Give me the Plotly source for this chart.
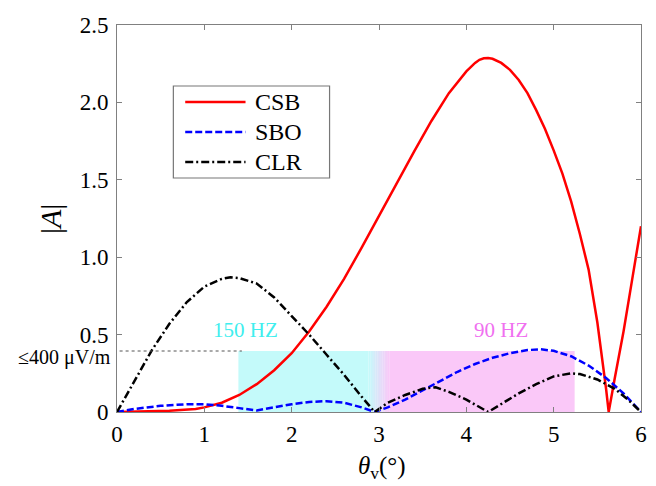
import plotly.graph_objects as go

# ---- data ----
csb_x = [0.0, 0.3, 0.6, 0.9, 1.0, 1.2, 1.4, 1.6, 1.8, 2.0, 2.2, 2.4, 2.6, 2.8, 3.0, 3.2, 3.4, 3.6, 3.8,
         4.0, 4.1, 4.15, 4.2, 4.25, 4.3, 4.4, 4.5, 4.6, 4.7, 4.8, 4.9, 5.0, 5.1, 5.2, 5.3, 5.4, 5.5,
         5.6, 5.63, 5.7, 5.8, 5.9, 6.0]
csb_y = [0.0, 0.003, 0.008, 0.02, 0.03, 0.06, 0.11, 0.18, 0.27, 0.38, 0.52, 0.68, 0.86, 1.06, 1.27,
         1.48, 1.68, 1.88, 2.06, 2.2, 2.255, 2.275, 2.285, 2.287, 2.282, 2.255, 2.21, 2.145, 2.06,
         1.95, 1.83, 1.69, 1.54, 1.36, 1.15, 0.92, 0.58, 0.15, 0.0, 0.22, 0.52, 0.86, 1.2]

sbo_x = [0.0, 0.2, 0.5, 0.8, 1.0, 1.2, 1.4, 1.6, 1.8, 2.0, 2.2, 2.4, 2.6, 2.8, 2.95, 3.1, 3.3, 3.5,
         3.7, 3.9, 4.1, 4.3, 4.5, 4.7, 4.85, 5.0, 5.2, 5.4, 5.6, 5.8, 6.0]
sbo_y = [0.0, 0.02, 0.04, 0.05, 0.05, 0.04, 0.025, 0.01, 0.03, 0.05, 0.065, 0.07, 0.06, 0.03, 0.0,
         0.03, 0.08, 0.14, 0.2, 0.26, 0.31, 0.35, 0.38, 0.4, 0.405, 0.395, 0.36, 0.3, 0.22, 0.12, 0.0]

clr_x = [0.0, 0.2, 0.4, 0.6, 0.8, 1.0, 1.2, 1.3, 1.4, 1.6, 1.8, 2.0, 2.2, 2.4, 2.6, 2.8, 2.95, 3.1,
         3.3, 3.5, 3.65, 3.8, 4.0, 4.25, 4.4, 4.6, 4.8, 5.0, 5.2, 5.3, 5.5, 5.7, 5.85, 6.0]
clr_y = [0.0, 0.2, 0.4, 0.57, 0.71, 0.81, 0.86, 0.87, 0.865, 0.83, 0.74, 0.62, 0.5, 0.37, 0.24, 0.1,
         0.0, 0.06, 0.11, 0.15, 0.16, 0.13, 0.08, 0.0, 0.05, 0.12, 0.18, 0.23, 0.25, 0.245, 0.21,
         0.15, 0.08, 0.0]

series_names = ["CSB", "SBO", "CLR"]
x_ticks = [0, 1, 2, 3, 4, 5, 6]
y_ticks = [0, 0.5, 1.0, 1.5, 2.0, 2.5]
y_ticktext = ["0", "0.5", "1.0", "1.5", "2.0", "2.5"]

threshold = 0.394          # ≤400 µV/m level
band_150 = (1.39, 3.0)      # 150 Hz band
band_90 = (3.0, 5.24)       # 90 Hz band

FONT = "Liberation Serif"
styles = [dict(color="#ff0000", width=2.5),
          dict(color="#0000ff", width=2.5, dash="7px,3px"),
          dict(color="#000000", width=2.5, dash="8px,3px,2px,3px")]

fig = go.Figure()
for name, xs, ys, st in zip(series_names, [csb_x, sbo_x, clr_x], [csb_y, sbo_y, clr_y], styles):
    fig.add_trace(go.Scatter(x=xs, y=ys, mode="lines", name=name, line=st, showlegend=False))

# shaded bands with a soft gradient at the junction
cyan = (196, 250, 250)
mag = (250, 200, 248)
g0, g1 = 2.88, 3.12
fig.add_shape(type="rect", xref="x", yref="y", x0=band_150[0], x1=g0, y0=0, y1=threshold,
              fillcolor="rgb(%d,%d,%d)" % cyan, line_width=0, layer="below")
fig.add_shape(type="rect", xref="x", yref="y", x0=g1, x1=band_90[1], y0=0, y1=threshold,
              fillcolor="rgb(%d,%d,%d)" % mag, line_width=0, layer="below")
n = 12
for i in range(n):
    t = (i + 0.5) / n
    c = tuple(int(round(cyan[k] + (mag[k] - cyan[k]) * t)) for k in range(3))
    fig.add_shape(type="rect", xref="x", yref="y",
                  x0=g0 + (g1 - g0) * i / n, x1=g0 + (g1 - g0) * (i + 1) / n + 0.002,
                  y0=0, y1=threshold, fillcolor="rgb(%d,%d,%d)" % c, line_width=0, layer="below")

# threshold dashed line
fig.add_shape(type="line", xref="x", yref="y", x0=0.03, x1=1.43, y0=threshold, y1=threshold,
              line=dict(color="#555555", width=1, dash="3px,3px"))

fig.add_annotation(x=1.47, y=0.53, xref="x", yref="y", text="150 HZ", showarrow=False,
                   font=dict(family=FONT, size=21, color="#40eeee"))
fig.add_annotation(x=4.40, y=0.53, xref="x", yref="y", text="90 HZ", showarrow=False,
                   font=dict(family=FONT, size=21, color="#f070f0"))
fig.add_annotation(x=-0.008, y=0.35, xref="paper", yref="y", text="≤400 μV/m", showarrow=False,
                   xanchor="right", font=dict(family=FONT, size=20, color="black"))

fig.add_annotation(x=-86 / 530, y=0.5, xref="paper", yref="paper", text="|<i>A</i>|",
                   showarrow=False, textangle=-90, font=dict(family=FONT, size=30, color="black"))
fig.add_annotation(x=0.505, y=-55 / 387, xref="paper", yref="paper", yanchor="middle",
                   text="<i>θ</i><sub>v</sub>(°)", showarrow=False,
                   font=dict(family=FONT, size=25, color="black"))

# legend box drawn by hand (matches reference proportions)
def px_x(p):
    return (p - 117) / 530


def px_y(p):
    return (412 - p) / 387


fig.add_shape(type="rect", xref="paper", yref="paper", x0=px_x(174), x1=px_x(332),
              y0=px_y(178), y1=px_y(86), line=dict(color="#777777", width=1.2),
              fillcolor="white", layer="above")
for k, (name, st) in enumerate(zip(series_names, styles)):
    yy = px_y(102 + 30 * k)
    fig.add_shape(type="line", xref="paper", yref="paper", x0=px_x(186), x1=px_x(247),
                  y0=yy, y1=yy, line=st, layer="above")
    fig.add_annotation(x=px_x(255), y=yy, xref="paper", yref="paper", text=name,
                       showarrow=False, xanchor="left", yanchor="middle",
                       font=dict(family=FONT, size=24, color="black"))

axis_common = dict(showline=True, linecolor="#808080", linewidth=1, mirror="ticks",
                   ticks="inside", ticklen=5, tickcolor="#808080", showgrid=False, zeroline=False,
                   tickfont=dict(family=FONT, size=23, color="black"))

fig.update_layout(
    width=656, height=486,
    margin=dict(l=117, r=9, t=25, b=74),
    paper_bgcolor="white", plot_bgcolor="white",
    xaxis=dict(range=[0, 6], tickvals=x_ticks, ticklabelstandoff=1, **axis_common),
    yaxis=dict(range=[0, 2.5], tickvals=y_ticks, ticktext=y_ticktext, ticklabelstandoff=3,
               **axis_common),
    showlegend=False,
)

fig.write_html("out.html")
